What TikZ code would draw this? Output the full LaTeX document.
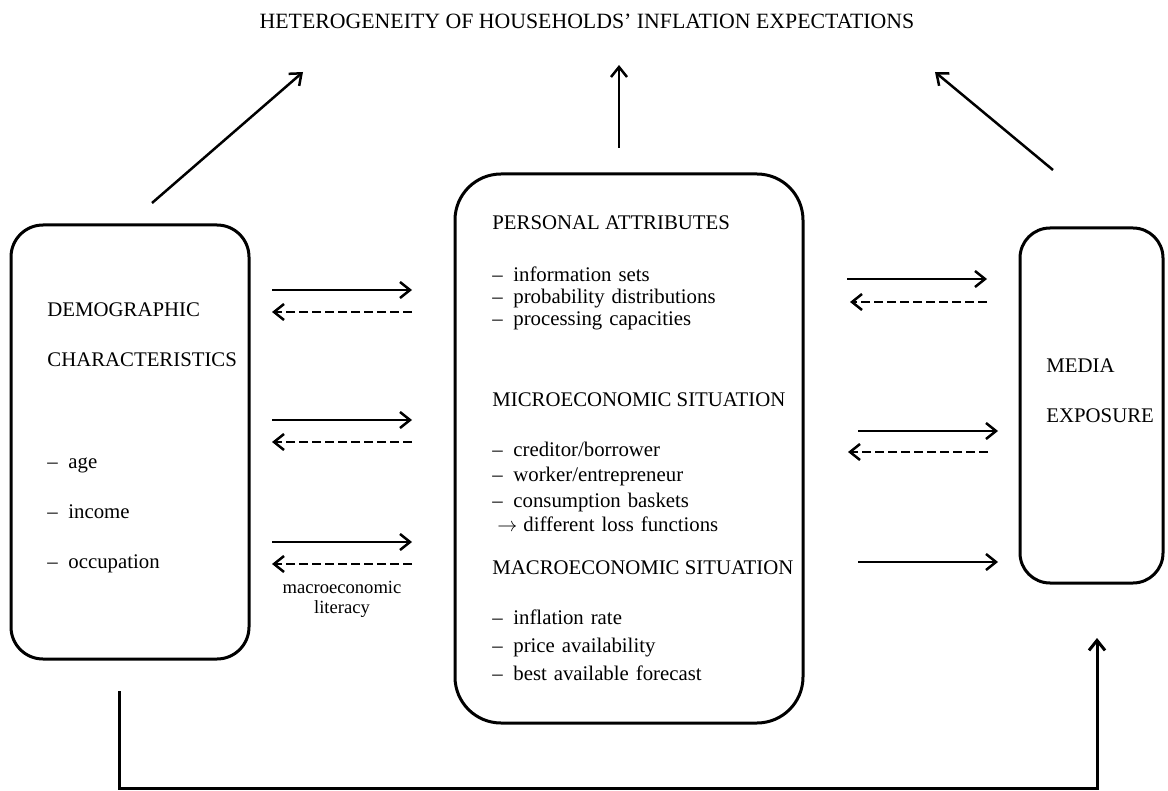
\documentclass[tikz,border=0pt]{standalone}
\usepackage{fontspec}
\setmainfont{Liberation Serif}
\usetikzlibrary{arrows.meta,calc}
\newcommand{\dashitem}{\makebox[10.5pt][l]{--}}
\newcommand{\arrowitem}{\makebox[15.5pt][l]{\hspace{2.5pt}$\rightarrow$}}

\begin{document}
\begin{tikzpicture}[
    x=0.5pt,
    y=-0.5pt,
    font=\fontsize{10.4pt}{12.5pt}\selectfont,
    >={Straight Barb[length=5pt,width=8pt]},
    bigbox/.style={draw, line width=1.5pt, inner sep=0pt, outer sep=0pt},
    heading/.style={inner sep=0pt, anchor=base west, align=left},
    listing/.style={inner sep=0pt, anchor=base west, align=left, text width=#1},
    fwd/.style={->, line width=1.25pt},
    bwd/.style={->, line width=1.25pt, dash pattern=on 4.5pt off 2pt},
    link/.style={->, line width=1.5pt}
  ]
  \useasboundingbox (0,0) rectangle (1168,791);

  \node[heading, anchor=base, font=\fontsize{10.9pt}{13pt}\selectfont] (title) at (587,29) {HETEROGENEITY OF HOUSEHOLDS’ INFLATION EXPECTATIONS};

  \node[bigbox, rounded corners=16pt, minimum width=119pt, minimum height=217pt] (demobox) at (130,442) {};
  \node[bigbox, rounded corners=23pt, minimum width=174pt, minimum height=274.5pt] (persbox) at (629,448.5) {};
  \node[bigbox, rounded corners=15pt, minimum width=71.5pt, minimum height=177.5pt] (mediabox) at (1091.5,405.5) {};

  \node[listing=100pt, font=\fontsize{10.4pt}{25pt}\selectfont] (demohead) at (47,317) {DEMOGRAPHIC\\CHARACTERISTICS};
  \node[listing=100pt, font=\fontsize{10.4pt}{25pt}\selectfont] (demoitems) at (47,468) {\dashitem age\\\dashitem income\\\dashitem occupation};

  \node[heading] (persname) at (492,230) {PERSONAL ATTRIBUTES};
  \node[listing=150pt, font=\fontsize{10.4pt}{11pt}\selectfont] (persitems) at (492,282) {\dashitem information sets\\\dashitem probability distributions\\\dashitem processing capacities};
  \node[heading] (microname) at (492,407) {MICROECONOMIC SITUATION};
  \node[listing=150pt] (microitems) at (492,457) {\dashitem creditor/borrower\\\dashitem worker/entrepreneur\\\dashitem consumption baskets\\\arrowitem different loss functions};
  \node[heading] (macroname) at (492,574) {MACROECONOMIC SITUATION};
  \node[listing=150pt, font=\fontsize{10.4pt}{14pt}\selectfont] (macroitems) at (492,624) {\dashitem inflation rate\\\dashitem price availability\\\dashitem best available forecast};

  \node[listing=70pt, font=\fontsize{10.4pt}{25pt}\selectfont] (mediahead) at (1046,372) {MEDIA\\EXPOSURE};

  \node[inner sep=0pt, anchor=north, align=center, font=\fontsize{9.3pt}{10pt}\selectfont] (literacy) at (342,581) {macroeconomic\\literacy};

  \foreach \y in {290,420,542} {
    \draw[fwd] ($(demobox.east |- 0,\y)+(23,0)$) -- ($(persbox.west |- 0,\y)+(-43,0)$);
    \draw[bwd] ($(persbox.west |- 0,\y+22)+(-43,0)$) -- ($(demobox.east |- 0,\y+22)+(23,0)$);
  }

  \draw[fwd] ($(persbox.east |- 0,279)+(44,0)$) -- ($(mediabox.west |- 0,279)+(-33,0)$);
  \draw[bwd] ($(mediabox.west |- 0,302)+(-33,0)$) -- ($(persbox.east |- 0,302)+(47,0)$);
  \draw[fwd] ($(persbox.east |- 0,431)+(55,0)$) -- ($(mediabox.west |- 0,431)+(-22,0)$);
  \draw[bwd] ($(mediabox.west |- 0,452)+(-32,0)$) -- ($(persbox.east |- 0,452)+(45,0)$);
  \draw[fwd] ($(persbox.east |- 0,562)+(55,0)$) -- ($(mediabox.west |- 0,562)+(-22,0)$);

  \coordinate (upleft) at (303,72);
  \coordinate (upmid) at (619,65);
  \coordinate (upright) at (935,72);
  \draw[fwd] ($(demobox.north)+(22,-22)$) -- (upleft);
  \draw[fwd] ($(persbox.north)+(-10,-26)$) -- (upmid);
  \draw[fwd] ($(mediabox.north)+(-38.5,-58)$) -- (upright);

  \draw[link] ($(demobox.south)+(-11,32)$) -- ++(0,97) -| ($(mediabox.south)+(5.5,55)$);
\end{tikzpicture}
\end{document}
